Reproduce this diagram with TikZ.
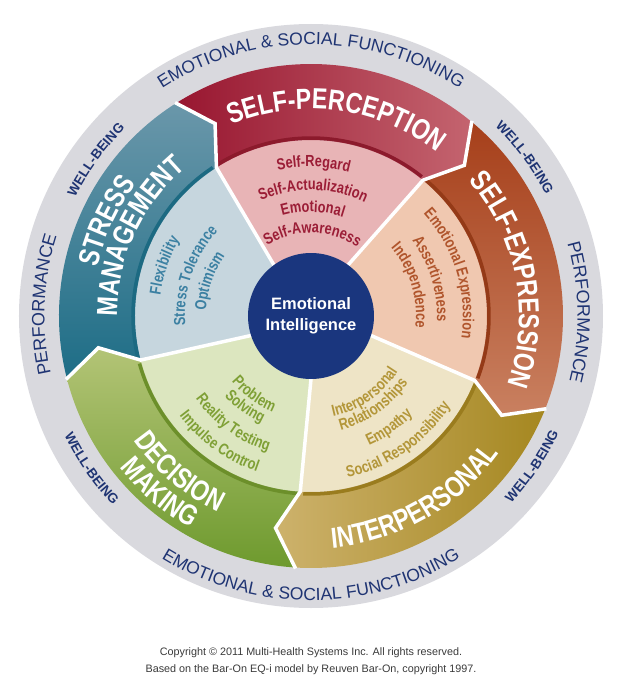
\documentclass[tikz,border=0pt]{standalone}
\usepackage{fontspec}
\setmainfont{Liberation Sans}
\newfontfamily\condfont[FakeStretch=0.8]{Liberation Sans}
\usetikzlibrary{decorations.text,positioning}

\definecolor{ringgray}{HTML}{D9D9DE}
\definecolor{ringtext}{HTML}{1F3473}
\definecolor{eicore}{HTML}{1A367E}
\definecolor{notegray}{HTML}{3A3A3A}
% self-perception
\definecolor{spdark}{HTML}{981630}\definecolor{splight}{HTML}{C4646F}
\definecolor{spslice}{HTML}{E8B4B6}\definecolor{spedge}{HTML}{8C1A2C}\definecolor{sptext}{HTML}{9B1D36}
% self-expression
\definecolor{sedark}{HTML}{A63F1A}\definecolor{selight}{HTML}{C98060}
\definecolor{seslice}{HTML}{F0C8B0}\definecolor{seedge}{HTML}{943A17}\definecolor{setext}{HTML}{B0552C}
% interpersonal
\definecolor{ipdark}{HTML}{A58720}\definecolor{iplight}{HTML}{CDB26C}
\definecolor{ipslice}{HTML}{EEE4C6}\definecolor{ipedge}{HTML}{9A7C1E}\definecolor{iptext}{HTML}{B39639}
% decision making
\definecolor{dmdark}{HTML}{6E9A2E}\definecolor{dmlight}{HTML}{B3C476}
\definecolor{dmslice}{HTML}{DCE6BF}\definecolor{dmedge}{HTML}{6C8F2A}\definecolor{dmtext}{HTML}{7FA036}
% stress management
\definecolor{smdark}{HTML}{1D6D86}\definecolor{smlight}{HTML}{6A97AA}
\definecolor{smslice}{HTML}{C6D6DE}\definecolor{smedge}{HTML}{1C6A82}\definecolor{smtext}{HTML}{3B80A2}

\def\Ro{252}\def\Rm{215}\def\Ri{176}\def\Rc{63}

\tikzset{divider/.style={white,line width=3.5pt,line join=miter},
  core/.style={circle,fill=eicore,minimum size=126pt,inner sep=0pt,text=white,align=center,
    font=\bfseries\fontsize{16.5}{21}\selectfont},
  note/.style={inner sep=0pt,text=notegray,font=\fontsize{10.8}{13}\selectfont}}

\newcommand\titlefmt{\condfont\bfseries\fontsize{29}{29}\selectfont\color{white}}
\newcommand\itemfmt[1]{\condfont\bfseries\fontsize{16}{16}\selectfont\color{#1}}
\newcommand\ringfmt{\fontsize{17.5}{17.5}\selectfont\color{ringtext}}
\newcommand\perffmt{\fontsize{18}{18}\selectfont\color{ringtext}}
\newcommand\wellfmt{\bfseries\fontsize{13.5}{13.5}\selectfont\color{ringtext}}

% text on an arc read clockwise (tops outward) / anticlockwise (tops inward)
\newcommand\arctop[4]{\path[decorate,decoration={text along path,text align=center,text={|#3|#4}}]
  ({#1+75}:#2) arc[start angle={#1+75},end angle={#1-75},radius=#2];}
\newcommand\arcbot[4]{\path[decorate,decoration={text along path,text align=center,text={|#3|#4}}]
  ({#1-75}:#2) arc[start angle={#1-75},end angle={#1+75},radius=#2];}

% one scale: inner slice, chevron band, dark edge
\newcommand\sector[5]{%
  \fill[#4] (0,0) -- ({#1+3.5}:\Rc) -- (#1:\Ri) arc[start angle=#1,end angle=#2,radius=\Ri]
    -- ({#2+3.5}:\Rc) -- cycle;
  \shade[#3] (#1:\Ro) arc[start angle=#1,end angle=#2,radius=\Ro] -- ({#2-6}:\Rm) -- (#2:\Ri)
    arc[start angle=#2,end angle=#1,radius=\Ri] -- ({#1-6}:\Rm) -- cycle;
  \draw[#5,line width=3.5pt] ({#1-1}:178) arc[start angle={#1-1},end angle={#2+1},radius=178];}

\begin{document}
\begin{tikzpicture}[x=1pt,y=1pt,node distance=17pt,on grid]
\useasboundingbox (-311,-373) rectangle (326,316);
\fill[ringgray] (0,0) circle (292);
\sector{122.5}{50.5}{left color=spdark,right color=splight}{spslice}{spedge}
\sector{50.5}{-21.5}{top color=sedark,bottom color=selight}{seslice}{seedge}
\sector{-21.5}{-93.5}{left color=iplight,right color=ipdark}{ipslice}{ipedge}
\sector{266.5}{194.5}{top color=dmlight,bottom color=dmdark}{dmslice}{dmedge}
\sector{194.5}{122.5}{top color=smlight,bottom color=smdark}{smslice}{smedge}
\foreach \b in {122.5,50.5,-21.5,266.5,194.5}
  \draw[divider] (\b:253) -- ({\b-6}:\Rm) -- (\b:\Ri) -- ({\b+3.5}:\Rc);
\node[core] (ei) at (0,0) {Emotional\\Intelligence};

% scale titles
\arctop{82.5}{207}{\titlefmt}{SELF-PERCEPTION}
\arctop{10.7}{208}{\titlefmt}{SELF-EXPRESSION}
\arcbot{-60.4}{233}{\titlefmt}{INTERPERSONAL}
\arcbot{229.8}{217}{\titlefmt}{DECISION}
\arcbot{229.4}{244}{\titlefmt}{MAKING}
\arctop{155}{219}{\titlefmt}{STRESS}
\arctop{155.1}{194}{\titlefmt}{MANAGEMENT}

% subscales
\arctop{89}{149}{\itemfmt{sptext}}{Self-Regard}
\arctop{89}{126}{\itemfmt{sptext}}{Self-Actualization}
\arctop{89}{104}{\itemfmt{sptext}}{Emotional}
\arctop{89}{83}{\itemfmt{sptext}}{Self-Awareness}
\arctop{17}{152}{\itemfmt{setext}}{Emotional Expression}
\arctop{17}{126}{\itemfmt{setext}}{Assertiveness}
\arctop{17}{105}{\itemfmt{setext}}{Independence}
\arcbot{-55}{103}{\itemfmt{iptext}}{Interpersonal}
\arcbot{-55}{118}{\itemfmt{iptext}}{Relationships}
\arcbot{-55}{142}{\itemfmt{iptext}}{Empathy}
\arcbot{-55}{166}{\itemfmt{iptext}}{Social Responsibility}
\arcbot{234}{103}{\itemfmt{dmtext}}{Problem}
\arcbot{234}{118}{\itemfmt{dmtext}}{Solving}
\arcbot{234}{142}{\itemfmt{dmtext}}{Reality Testing}
\arcbot{234}{165}{\itemfmt{dmtext}}{Impulse Control}
\arctop{161}{152}{\itemfmt{smtext}}{Flexibility}
\arctop{161}{126}{\itemfmt{smtext}}{Stress Tolerance}
\arctop{161}{105}{\itemfmt{smtext}}{Optimism}

% outer ring
\arctop{90}{271.5}{\ringfmt}{EMOTIONAL {\&} SOCIAL FUNCTIONING}
\arcbot{270}{284.5}{\ringfmt}{EMOTIONAL {\&} SOCIAL FUNCTIONING}
\arctop{177.5}{266.5}{\perffmt}{PERFORMANCE}
\arctop{0.8}{266.5}{\perffmt}{PERFORMANCE}
\arctop{144}{264}{\wellfmt}{WELL-BEING}
\arctop{36.5}{264}{\wellfmt}{WELL-BEING}
\arcbot{214.8}{274}{\wellfmt}{WELL-BEING}
\arcbot{-34.2}{274}{\wellfmt}{WELL-BEING}

\node[note] (copy1) at (0,-337) {Copyright © 2011 Multi-Health Systems Inc. All rights reserved.};
\node[note,below=of copy1] (copy2) {Based on the Bar-On EQ-i model by Reuven Bar-On, copyright 1997.};
\end{tikzpicture}
\end{document}
